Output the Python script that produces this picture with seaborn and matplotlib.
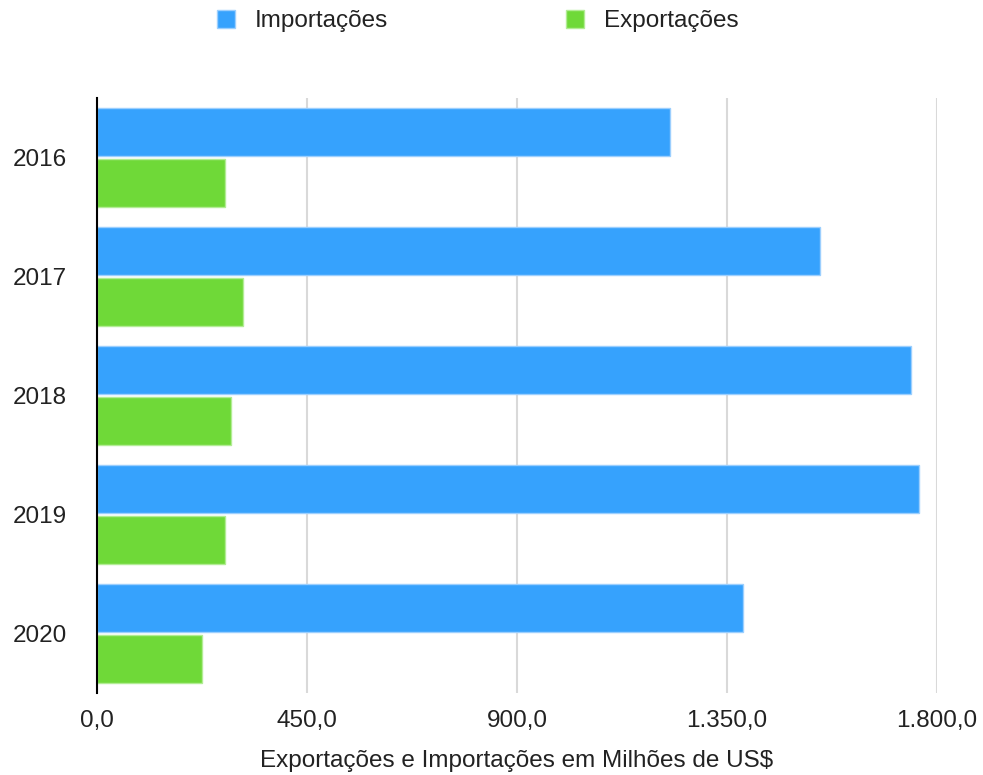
import matplotlib
matplotlib.use("Agg")
import matplotlib.pyplot as plt
from matplotlib.patches import Patch
from matplotlib.ticker import FuncFormatter
import seaborn as sns
import pandas as pd

anos = ["2016", "2017", "2018", "2019", "2020"]
importacoes = [1227, 1550, 1744, 1761, 1384]
exportacoes = [275, 313, 287, 274, 225]
series = ["Importações", "Exportações"]
x_ticks = [0, 450, 900, 1350, 1800]

cores = {"Importações": "#36A2FD", "Exportações": "#6FD938"}
bordas = {"Importações": "#9CCFFE", "Exportações": "#B2EC94"}

df = pd.DataFrame({
    "Ano": anos * 2,
    "Série": [series[0]] * len(anos) + [series[1]] * len(anos),
    "Valor": importacoes + exportacoes,
})

sns.set_theme(style="white")
plt.rcParams["font.family"] = ["Liberation Sans", "DejaVu Sans"]

FS = 17.5
fig = plt.figure(figsize=(9.83, 7.75), dpi=100)
W, H = 983, 775
ax = fig.add_axes([97 / W, 1 - 693 / H, (937 - 97) / W, (693 - 98) / H])

sns.barplot(data=df, y="Ano", x="Valor", hue="Série", order=anos,
            hue_order=series, palette=cores, orient="h",
            width=0.86, gap=0.06, legend=False, ax=ax, saturation=1)

for container, nome in zip(ax.containers, series):
    for bar in container:
        bar.set_edgecolor(bordas[nome])
        bar.set_linewidth(1.0)

ax.set_xlim(0, 1800)
ax.set_xticks(x_ticks)
ax.xaxis.set_major_formatter(FuncFormatter(
    lambda v, p: f"{v:,.1f}".replace(",", "X").replace(".", ",").replace("X", ".")))
ax.grid(axis="x", color="#D9D9D9", linewidth=1.5)
ax.grid(axis="y", visible=False)
ax.set_axisbelow(True)
for s in ["top", "right", "bottom"]:
    ax.spines[s].set_visible(False)
ax.spines["left"].set_color("black")
ax.spines["left"].set_linewidth(1.5)

ax.tick_params(axis="y", length=0, pad=21.6, labelsize=FS, labelcolor="#222222")
ax.tick_params(axis="x", length=0, pad=12, labelsize=FS, labelcolor="#222222")
ax.set_ylabel("")
ax.set_xlabel("Exportações e Importações em Milhões de US$", fontsize=FS,
              color="#222222", labelpad=13)

handles = [Patch(facecolor=cores[s], edgecolor=bordas[s], label=s) for s in series]
fig.legend(handles=handles, loc="center", bbox_to_anchor=(0.486, 0.973),
           ncol=2, frameon=False, fontsize=FS, handlelength=0.75,
           handleheight=0.75, handletextpad=0.82, columnspacing=7.3,
           labelcolor="#222222")

fig.savefig("out.png", dpi=100)
